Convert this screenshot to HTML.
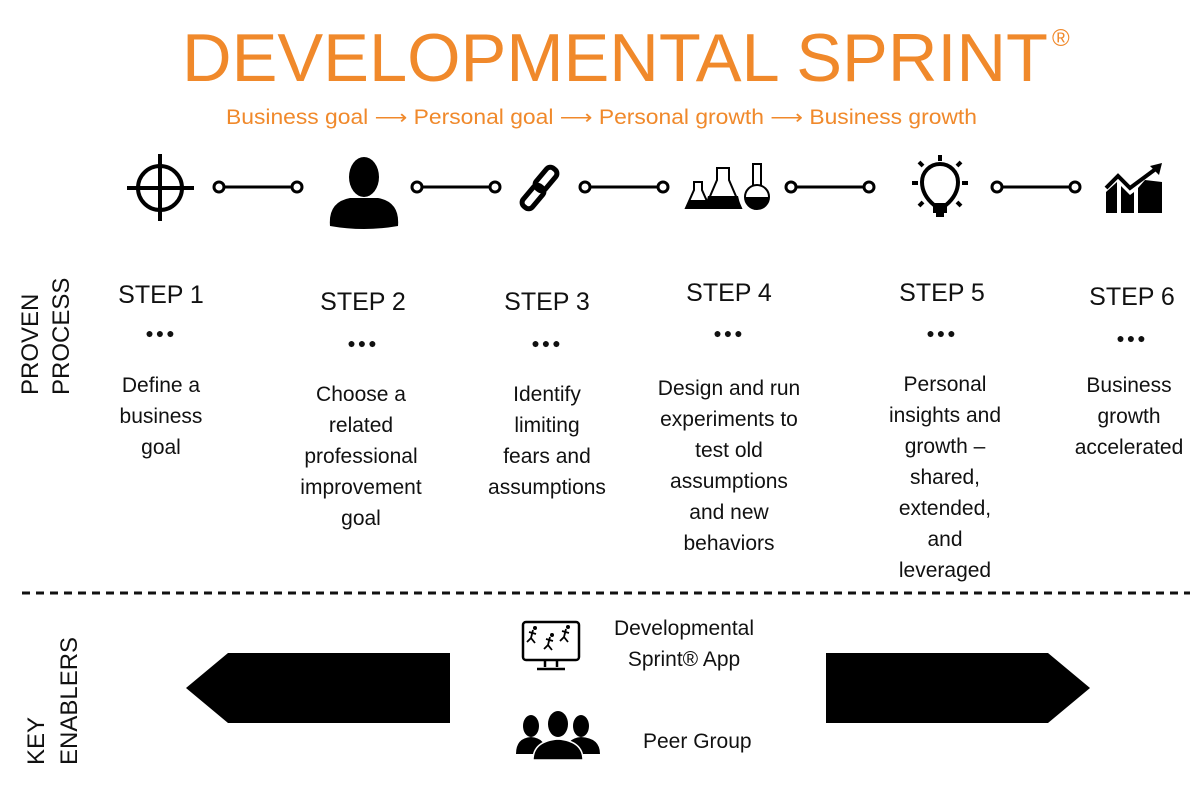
<!DOCTYPE html>
<html><head><meta charset="utf-8"><style>
html,body{margin:0;padding:0;background:#fff;}
svg{display:block;font-family:"Liberation Sans",sans-serif;}
.s{font-size:25px;fill:#111;text-anchor:middle;}
.d{font-size:21px;fill:#111;text-anchor:middle;}
.dot{font-size:14px;fill:#111;text-anchor:middle;letter-spacing:2px;}
</style></head><body>
<svg width="1200" height="798" viewBox="0 0 1200 798">
<text x="182" y="81" font-size="68" fill="#F0892B" textLength="866" lengthAdjust="spacingAndGlyphs">DEVELOPMENTAL SPRINT</text>
<text x="1052" y="46" font-size="24" fill="#F0892B">®</text>
<text x="226" y="124" font-size="21" fill="#F0892B" textLength="751" lengthAdjust="spacingAndGlyphs">Business goal ⟶ Personal goal ⟶ Personal growth ⟶ Business growth</text>

<g stroke="#000" stroke-width="3" fill="#fff">
<line x1="223" y1="187" x2="293" y2="187"/><circle cx="219" cy="187" r="5"/><circle cx="297" cy="187" r="5"/>
<line x1="421" y1="187" x2="491" y2="187"/><circle cx="417" cy="187" r="5"/><circle cx="495" cy="187" r="5"/>
<line x1="589" y1="187" x2="659" y2="187"/><circle cx="585" cy="187" r="5"/><circle cx="663" cy="187" r="5"/>
<line x1="795" y1="187" x2="865" y2="187"/><circle cx="791" cy="187" r="5"/><circle cx="869" cy="187" r="5"/>
<line x1="1001" y1="187" x2="1071" y2="187"/><circle cx="997" cy="187" r="5"/><circle cx="1075" cy="187" r="5"/>
</g>
<g stroke="#000" stroke-width="4" fill="none">
<circle cx="160" cy="188" r="22"/><line x1="127" y1="188" x2="194" y2="188"/><line x1="160" y1="154" x2="160" y2="221"/>
</g>
<ellipse cx="364" cy="177" rx="15" ry="20" fill="#000"/>
<path d="M330 226 Q328 202 350 198 L378 198 Q400 202 398 226 Q364 232 330 226Z" fill="#000"/>
<g stroke="#000" stroke-width="5" fill="none">
<rect x="540" y="166" width="12" height="26" rx="5" transform="rotate(40 546 179)"/>
<rect x="527" y="184" width="12" height="26" rx="5" transform="rotate(40 533 197)"/>
</g>
<g stroke="#000" stroke-width="2" fill="#fff">
<path d="M694 182 L702 182 L702 190 L710 208 L686 208 L694 190Z"/>
<path d="M717 168 L729 168 L729 180 L741 208 L705 208 L717 180Z"/>
<rect x="753" y="164" width="8" height="24"/><circle cx="757" cy="197" r="12"/>
</g>
<path d="M689 200 L707 200 L710 208 L686 208Z M708 196 L738 196 L741 208 L705 208Z M745 197 L769 197 A12 12 0 0 1 745 197Z" fill="#000"/>
<g stroke="#000" stroke-width="4" fill="none">
<path d="M934 205 Q922 195 922 182 A18 18 0 0 1 958 182 Q958 195 946 205Z"/>
<line x1="940" y1="155" x2="940" y2="161"/><line x1="912" y1="183" x2="918" y2="183"/><line x1="962" y1="183" x2="968" y2="183"/>
<line x1="919" y1="162" x2="923" y2="166"/><line x1="961" y1="162" x2="957" y2="166"/>
<line x1="919" y1="206" x2="923" y2="202"/><line x1="961" y1="206" x2="957" y2="202"/>
</g>
<rect x="933" y="203" width="14" height="10" fill="#000"/><rect x="936" y="212" width="8" height="5" fill="#000"/>
<path d="M1106 213 L1106 192 L1117 182 L1117 213Z M1121 213 L1121 186 L1130 195 L1134 192 L1134 213Z M1138 213 L1138 188 L1145 180 L1162 182 L1162 213Z" fill="#000"/>
<path d="M1106 188 L1118 176 L1130 188 L1157 168" stroke="#000" stroke-width="4" fill="none"/>
<path d="M1150 166 L1162 163 L1159 175Z" fill="#000"/>

<g font-size="24" fill="#111">
<text transform="translate(38,395) rotate(-90)">PROVEN</text>
<text transform="translate(69,395) rotate(-90)">PROCESS</text>
<text transform="translate(44,765) rotate(-90)">KEY</text>
<text transform="translate(77,765) rotate(-90)">ENABLERS</text>
</g>

<text class="s" x="161" y="303">STEP 1</text><text class="dot" x="161" y="338">●●●</text>
<text class="d" x="161" y="392">Define a</text><text class="d" x="161" y="423">business</text><text class="d" x="161" y="454">goal</text>

<text class="s" x="363" y="310">STEP 2</text><text class="dot" x="363" y="348">●●●</text>
<text class="d" x="361" y="401">Choose a</text><text class="d" x="361" y="432">related</text><text class="d" x="361" y="463">professional</text><text class="d" x="361" y="494">improvement</text><text class="d" x="361" y="525">goal</text>

<text class="s" x="547" y="310">STEP 3</text><text class="dot" x="547" y="348">●●●</text>
<text class="d" x="547" y="401">Identify</text><text class="d" x="547" y="432">limiting</text><text class="d" x="547" y="463">fears and</text><text class="d" x="547" y="494">assumptions</text>

<text class="s" x="729" y="301">STEP 4</text><text class="dot" x="729" y="338">●●●</text>
<text class="d" x="729" y="395">Design and run</text><text class="d" x="729" y="426">experiments to</text><text class="d" x="729" y="457">test old</text><text class="d" x="729" y="488">assumptions</text><text class="d" x="729" y="519">and new</text><text class="d" x="729" y="550">behaviors</text>

<text class="s" x="942" y="301">STEP 5</text><text class="dot" x="942" y="338">●●●</text>
<text class="d" x="945" y="391">Personal</text><text class="d" x="945" y="422">insights and</text><text class="d" x="945" y="453">growth –</text><text class="d" x="945" y="484">shared,</text><text class="d" x="945" y="515">extended,</text><text class="d" x="945" y="546">and</text><text class="d" x="945" y="577">leveraged</text>

<text class="s" x="1132" y="305">STEP 6</text><text class="dot" x="1132" y="343">●●●</text>
<text class="d" x="1129" y="392">Business</text><text class="d" x="1129" y="423">growth</text><text class="d" x="1129" y="454">accelerated</text>

<line x1="22" y1="593" x2="1190" y2="593" stroke="#111" stroke-width="3" stroke-dasharray="8,6"/>

<polygon points="186,688 228,653 450,653 450,723 228,723" fill="#000"/>
<polygon points="826,653 1048,653 1090,688 1048,723 826,723" fill="#000"/>

<g stroke="#000" stroke-width="2.5" fill="none">
<rect x="523" y="622" width="56" height="38" rx="3"/><line x1="545" y1="660" x2="545" y2="667"/><line x1="557" y1="660" x2="557" y2="667"/><line x1="537" y1="669" x2="565" y2="669"/>
</g>
<g stroke="#000" stroke-width="1.8" fill="none">
<path d="M533 630 L531 638 L527 642 M531 638 L535 643 M529 632 L536 634"/>
<path d="M550 637 L548 645 L544 649 M548 645 L552 650 M546 639 L553 641"/>
<path d="M566 629 L564 637 L560 641 M564 637 L568 642 M562 631 L569 633"/>
</g>
<g fill="#000"><circle cx="535" cy="628" r="2"/><circle cx="552" cy="635" r="2"/><circle cx="568" cy="627" r="2"/></g>
<text x="684" y="635" font-size="21" fill="#111" text-anchor="middle">Developmental</text>
<text x="684" y="666" font-size="21" fill="#111" text-anchor="middle">Sprint® App</text>
<g fill="#000">
<ellipse cx="531" cy="726" rx="8" ry="11"/><path d="M516 754 Q516 738 531 737 Q546 738 546 754Z"/>
<ellipse cx="581" cy="726" rx="8" ry="11"/><path d="M566 754 Q566 738 581 737 Q600 738 600 754Z"/>
<ellipse cx="558" cy="724" rx="10" ry="13"/><path d="M533 760 Q533 741 558 739 Q583 741 583 760Z" stroke="#fff" stroke-width="1.5"/>
</g>
<text x="643" y="748" font-size="21" fill="#111">Peer Group</text>
</svg>
</body></html>
